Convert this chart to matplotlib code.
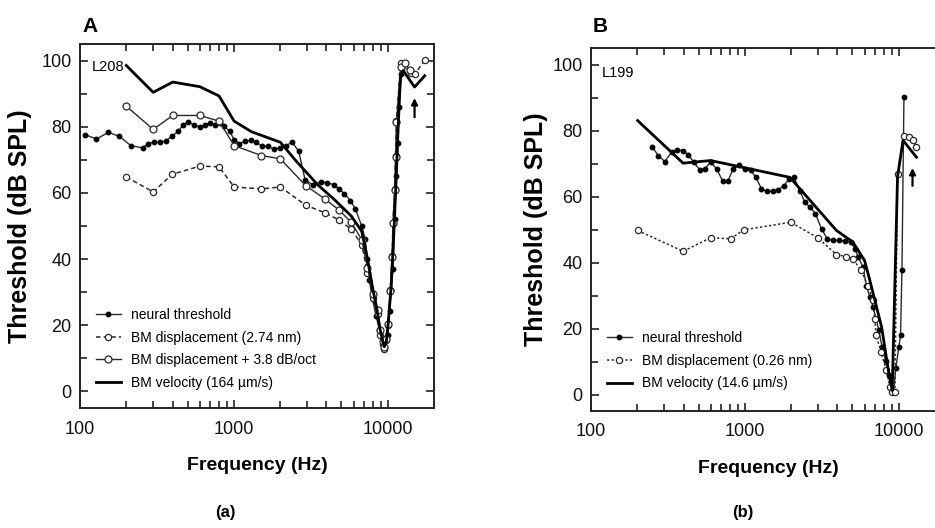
import numpy as np
import matplotlib
matplotlib.use("Agg")
import matplotlib.pyplot as plt
from matplotlib.ticker import NullFormatter

plt.rcParams['font.family'] = ['Liberation Sans', 'DejaVu Sans']

# ---- panel A (L208) ----
neural_a_f = [108, 128, 153, 180, 214, 255, 278, 302, 331, 360, 394, 435, 469, 505, 550,
              601, 648, 698, 752, 810, 860, 941, 1004, 1084, 1181, 1290, 1401, 1524, 1670,
              1821, 1989, 2177, 2398, 2640, 2903, 3246, 3668, 4034, 4456, 4794, 5228, 5719,
              6163, 6781, 7133, 7390, 7580, 7980, 8400, 8830, 9290, 9520, 10020, 10290,
              10560, 10820, 11090, 11380, 11660, 11840, 12270, 12400]
neural_a_db = [77.6, 76.3, 78.3, 77.1, 74.3, 73.6, 74.9, 75.3, 75.3, 75.6, 77.1, 78.6, 80.6,
               81.4, 80.6, 79.9, 80.4, 81.0, 80.6, 81.2, 80.2, 78.6, 76.1, 74.9, 75.6, 75.9,
               75.3, 74.1, 74.1, 73.3, 73.6, 74.3, 75.3, 72.6, 64.0, 62.5, 63.3, 63.1, 62.5,
               61.2, 59.8, 57.7, 55.2, 50.0, 46.1, 39.9, 33.8, 27.8, 22.8, 18.7, 15.2, 13.2,
               17.2, 24.3, 30.8, 36.9, 52.0, 65.0, 75.1, 86.0, 95.8, 97.8]

disp_a_f = [200, 299, 397, 601, 801, 1004, 1508, 2006, 2930, 3908, 4833, 5800, 6781, 7390,
            8060, 8610, 8960, 9290, 9460, 9680, 10050, 10400, 10700, 10820, 11100, 11250,
            11400, 12150, 14200, 15100, 17400]
disp_a_db = [64.8, 60.3, 65.6, 68.1, 67.9, 61.8, 61.2, 61.8, 56.3, 54.0, 51.8, 49.0, 44.4,
             35.9, 28.3, 23.3, 17.2, 14.2, 12.7, 15.7, 20.2, 30.8, 40.9, 51.0, 61.2, 71.3,
             81.7, 99.2, 96.3, 96.0, 100.2]

plus_a_f = [200, 299, 401, 601, 801, 1004, 1508, 2006, 2930, 3908, 4833, 5800, 6781, 7390,
            8060, 8610, 8960, 9290, 9460, 9680, 10050, 10400, 10700, 10820, 11100, 11250,
            11400, 12150, 12900, 13900]
plus_a_db = [86.2, 79.2, 83.4, 83.4, 81.7, 74.3, 71.3, 70.3, 62.2, 58.2, 54.8, 51.1, 45.9,
             37.4, 29.5, 24.5, 18.5, 15.2, 13.5, 16.0, 20.5, 30.5, 40.5, 51.0, 61.0, 71.0,
             81.5, 98.0, 99.4, 97.0]

vel_a_f = [200, 299, 401, 601, 801, 1004, 1300, 2006, 2500, 3500, 4500, 5800, 6781, 7400,
           8000, 8500, 8900, 9300, 9500, 9800, 10100, 10500, 10900, 11300, 11700, 12100,
           12600, 14950, 17400]
vel_a_db = [98.5, 90.4, 93.5, 92.1, 89.3, 81.7, 78.5, 75.3, 70.0, 62.5, 58.0, 53.0, 48.4,
            40.0, 31.0, 25.0, 19.0, 15.0, 13.5, 15.0, 21.0, 31.0, 45.0, 62.0, 80.0, 95.0,
            97.0, 92.0, 95.4]

# ---- panel B (L199) ----
neural_b_f = [251, 274, 302, 334, 364, 397, 428, 466, 510, 550, 599, 655, 716, 778, 839, 918,
              1000, 1094, 1180, 1283, 1383, 1513, 1648, 1795, 1944, 2082, 2274, 2453, 2642,
              2879, 3150, 3430, 3740, 4101, 4468, 4870, 5200, 5460, 5870, 6160, 6500, 6820,
              7130, 7430, 7810, 8210, 8630, 8950, 9260, 9570, 10020, 10280, 10500, 10820]
neural_b_db = [74.9, 72.4, 70.6, 73.4, 74.1, 73.9, 72.7, 70.4, 68.0, 68.4, 70.4, 68.4, 64.8,
               64.8, 68.4, 69.4, 68.4, 67.9, 65.8, 62.3, 61.6, 61.6, 62.0, 63.3, 65.4, 65.8,
               61.8, 58.3, 56.8, 54.8, 50.2, 47.2, 46.7, 46.7, 46.5, 46.2, 44.2, 41.6, 38.6,
               33.0, 29.5, 26.5, 22.9, 19.4, 14.3, 10.3, 5.8, 1.7, 0.7, 7.9, 14.3, 17.9,
               37.6, 90.3]

disp_b_f = [201, 397, 599, 808, 986, 1984, 2977, 3940, 4554, 5040, 5700, 6300, 6820, 6990,
            7130, 7690, 8300, 8770, 9080, 9450, 9830, 10780, 11690, 12400, 13050]
disp_b_db = [49.7, 43.4, 47.5, 47.2, 49.9, 52.2, 47.5, 42.4, 41.8, 41.1, 37.6, 33.0, 28.5,
             22.9, 17.9, 12.8, 7.3, 2.2, 0.7, 0.7, 66.9, 78.2, 78.0, 77.0, 74.9]

vel_b_f = [201, 397, 599, 1963, 3940, 5040, 6000, 6500, 7750, 8710, 9080, 9830, 10670, 13050]
vel_b_db = [83.0, 70.1, 70.9, 65.8, 49.7, 46.2, 40.6, 34.5, 20.4, 5.2, 1.2, 66.0, 77.0, 71.9]

W, H = 935, 528
fig = plt.figure(figsize=(W / 100, H / 100), dpi=100)
ax_a = fig.add_axes([80 / W, 1 - 408 / H, 354 / W, 364 / H])
ax_b = fig.add_axes([591 / W, 1 - 411 / H, 354 / W, 363 / H])

thin = '#2a2a2a'


def style_axis(ax):
    ax.set_xscale('log')
    ax.set_xlim(100, 20000)
    ax.set_ylim(-5, 105)
    ax.set_xticks([100, 1000, 10000])
    ax.set_xticklabels(['100', '1000', '10000'])
    minors = [m * d for d in (100, 1000) for m in range(2, 10)]
    ax.set_xticks(minors, minor=True)
    ax.xaxis.set_minor_formatter(NullFormatter())
    ax.set_yticks(np.arange(0, 101, 20))
    ax.set_yticks(np.arange(10, 100, 20), minor=True)
    ax.tick_params(which='both', direction='in', top=True, right=True, width=1.1,
                   labelsize=13, colors='#111')
    ax.tick_params(axis='x', which='major', length=6, pad=9)
    ax.tick_params(axis='x', which='minor', length=5)
    ax.tick_params(axis='y', which='major', length=6, pad=6)
    ax.tick_params(axis='y', which='minor', length=5)
    for s in ax.spines.values():
        s.set_linewidth(1.4)
        s.set_color('#222')
    ax.set_xlabel('Frequency (Hz)', fontsize=14, fontweight='bold')
    ax.set_ylabel('Threshold (dB SPL)', fontsize=18, fontweight='bold')


# panel A
ax = ax_a
ax.plot(neural_a_f, neural_a_db, '-', color=thin, lw=1.0, marker='o', ms=3.2,
        mfc='k', mec='k', label='neural threshold')
ax.plot(disp_a_f, disp_a_db, color=thin, lw=1.1, dashes=(3, 2), marker='o', ms=4.5,
        mfc='white', mec=thin, mew=0.9, label='BM displacement (2.74 nm)')
ax.plot(plus_a_f, plus_a_db, '-', color=thin, lw=1.0, marker='o', ms=5,
        mfc='white', mec=thin, mew=0.9, label='BM displacement + 3.8 dB/oct')
ax.plot(vel_a_f, vel_a_db, '-', color='k', lw=2.0, label='BM velocity (164 \u00b5m/s)')
ax.text(119, 98, 'L208', fontsize=10.5, va='center', ha='left')
ax.annotate('', xy=(14950, 89.5), xytext=(14950, 82),
            arrowprops=dict(arrowstyle='-|>', color='k', lw=1.6, mutation_scale=9))
style_axis(ax)
ax.legend(loc='upper left', bbox_to_anchor=(0.045, 0.275), frameon=False, fontsize=10,
          handlelength=1.8, handletextpad=0.7, labelspacing=0.62, borderpad=0,
          borderaxespad=0)
ax.yaxis.set_label_coords(-0.136, 0.5)
ax.xaxis.set_label_coords(0.5, -0.135)

# panel B
ax = ax_b
ax.plot(neural_b_f, neural_b_db, '-', color=thin, lw=1.0, marker='o', ms=3.2,
        mfc='k', mec='k', label='neural threshold')
ax.plot(disp_b_f, disp_b_db, color=thin, lw=1.1, dashes=(1.5, 1.5), marker='o', ms=4.5,
        mfc='white', mec=thin, mew=0.9, label='BM displacement (0.26 nm)')
ax.plot(vel_b_f, vel_b_db, '-', color='k', lw=2.0, label='BM velocity (14.6 \u00b5m/s)')
ax.text(117, 97.3, 'L199', fontsize=10.5, va='center', ha='left')
ax.annotate('', xy=(12300, 69.5), xytext=(12300, 62.4),
            arrowprops=dict(arrowstyle='-|>', color='k', lw=1.6, mutation_scale=9))
style_axis(ax)
ax.legend(loc='upper left', bbox_to_anchor=(0.045, 0.22), frameon=False, fontsize=10,
          handlelength=1.8, handletextpad=0.7, labelspacing=0.62, borderpad=0,
          borderaxespad=0)
ax.yaxis.set_label_coords(-0.121, 0.5)
ax.xaxis.set_label_coords(0.5, -0.135)

# panel letters and captions
fig.text(82 / W, 1 - 17 / H, 'A', fontsize=15, fontweight='bold', va='top', ha='left')
fig.text(593 / W, 1 - 17 / H, 'B', fontsize=15, fontweight='bold', va='top', ha='left')
fig.text(225 / W, 1 - 513 / H, '(a)', fontsize=12, fontweight='bold', va='center',
         ha='center')
fig.text(743 / W, 1 - 513 / H, '(b)', fontsize=12, fontweight='bold', va='center',
         ha='center')

fig.savefig('out.png', dpi=100)
